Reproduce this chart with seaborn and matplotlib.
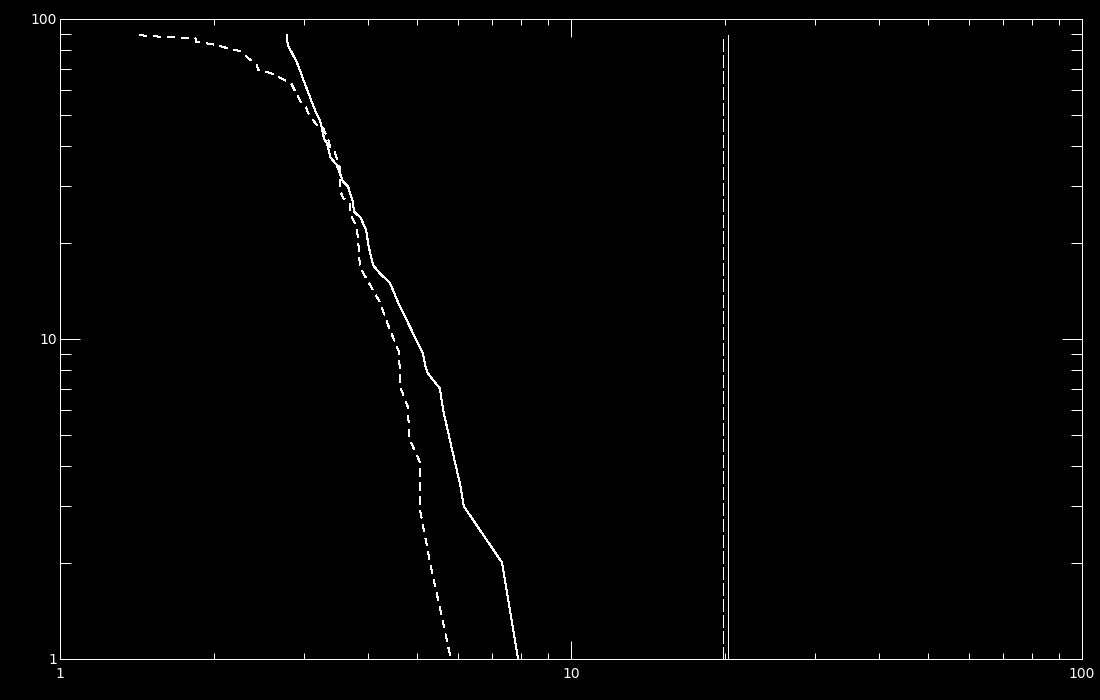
import matplotlib
matplotlib.use("Agg")
import matplotlib.pyplot as plt
import matplotlib.ticker as mticker
import seaborn as sns
import pandas as pd

# cumulative curve, solid line (x, count)
solid_x = [2.78, 2.79, 2.86, 2.91, 2.96, 3.00, 3.06, 3.11, 3.17, 3.23, 3.29, 3.33,
           3.38, 3.48, 3.58, 3.66, 3.74, 3.76, 3.87, 3.97, 4.02, 4.10, 4.23, 4.42,
           4.59, 5.13, 5.20, 5.25, 5.54, 5.62, 5.80, 6.07, 6.17, 7.33, 7.88]
solid_y = [89.0, 83.0, 77.0, 73.0, 68.0, 64.0, 59.0, 55.0, 51.0, 48.0, 42.0, 41.0,
           37.0, 35.0, 31.0, 30.0, 27.0, 25.0, 24.0, 22.0, 19.4, 17.0, 16.0, 15.0,
           13.0, 9.0, 8.1, 7.8, 7.0, 6.0, 4.8, 3.5, 3.0, 2.0, 1.0]

# cumulative curve, dashed line (x, count)
dashed_x = [1.43, 1.61, 1.84, 1.85, 1.98, 2.12, 2.25, 2.32, 2.43, 2.44, 2.58, 2.73,
            2.84, 2.87, 2.96, 3.03, 3.06, 3.18, 3.26, 3.35, 3.38, 3.45, 3.53, 3.53,
            3.58, 3.69, 3.69, 3.81, 3.85, 3.86, 4.01, 4.23, 4.42, 4.61, 4.63, 4.80,
            4.82, 5.07, 5.07, 5.30, 5.82]
dashed_y = [89.0, 87.8, 87.2, 84.7, 83.5, 81.2, 79.4, 76.1, 71.8, 69.3, 67.8, 64.9,
            62.6, 60.4, 55.0, 53.1, 50.8, 46.6, 46.3, 41.9, 39.8, 38.4, 34.2, 29.2,
            27.6, 26.6, 24.8, 22.4, 18.6, 16.8, 15.1, 13.0, 10.7, 9.1, 7.1, 6.1,
            4.9, 4.1, 2.9, 2.0, 1.0]

# vertical reference lines
vline_solid_x = 20.3
vline_dashed_x = 19.8
vline_low, vline_high = 1.0, 89.0

tick_vals = [1, 10, 100]
tick_labels = ["1", "10", "100"]

LW = 0.72  # one pixel at 100 dpi

sns.set_theme(style="ticks", rc={
    "figure.facecolor": "black",
    "axes.facecolor": "black",
    "axes.edgecolor": "white",
    "axes.linewidth": LW,
    "xtick.color": "white",
    "ytick.color": "white",
    "text.color": "white",
})
plt.rcParams["font.family"] = ["Liberation Sans Narrow", "DejaVu Sans"]

fig = plt.figure(figsize=(11, 7), dpi=100)
ax = fig.add_axes([60 / 1100, 41 / 700, 1022 / 1100, 640 / 700])

solid = pd.DataFrame({"x": solid_x, "y": solid_y})
dashed = pd.DataFrame({"x": dashed_x, "y": dashed_y})

sns.lineplot(data=solid, x="x", y="y", ax=ax, color="white", lw=LW,
             estimator=None, sort=False, antialiased=False)
sns.lineplot(data=dashed, x="x", y="y", ax=ax, color="white", lw=LW,
             estimator=None, sort=False, antialiased=False,
             linestyle=(0, (8, 6)))

ax.vlines(vline_solid_x, vline_low, vline_high, color="white", lw=LW,
          antialiased=False)
ax.vlines(vline_dashed_x, vline_low, vline_high, color="white", lw=LW,
          antialiased=False, linestyles=[(0, (12, 4))])

ax.set_xscale("log")
ax.set_yscale("log")
ax.set_xlim(1, 100)
ax.set_ylim(1, 100)

ax.xaxis.set_major_locator(mticker.FixedLocator(tick_vals))
ax.yaxis.set_major_locator(mticker.FixedLocator(tick_vals))
ax.xaxis.set_major_formatter(mticker.FixedFormatter(tick_labels))
ax.yaxis.set_major_formatter(mticker.FixedFormatter(tick_labels))
ax.xaxis.set_minor_locator(mticker.LogLocator(base=10, subs=range(2, 10)))
ax.yaxis.set_minor_locator(mticker.LogLocator(base=10, subs=range(2, 10)))
ax.xaxis.set_minor_formatter(mticker.NullFormatter())
ax.yaxis.set_minor_formatter(mticker.NullFormatter())

ax.tick_params(axis="both", which="both", direction="in", top=True, right=True,
               width=LW, labelsize=10, colors="white")
ax.tick_params(axis="x", which="major", length=12.7, pad=6)
ax.tick_params(axis="x", which="minor", length=4.3)
ax.tick_params(axis="y", which="major", length=14.4, pad=2)
ax.tick_params(axis="y", which="minor", length=7.6)
for s in ax.spines.values():
    s.set_color("white")

ax.set_xlabel("")
ax.set_ylabel("")

fig.savefig("out.png", dpi=100, facecolor="black")
